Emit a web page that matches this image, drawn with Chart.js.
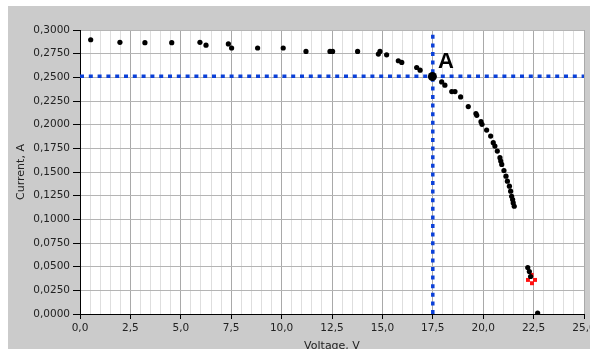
<!DOCTYPE html>
<html>
<head>
<meta charset="utf-8">
<script src="https://cdn.jsdelivr.net/npm/chart.js@4.4.0/dist/chart.umd.min.js"></script>
<style>
  html, body { margin: 0; padding: 0; background: #fff; }
  #wrap { width: 590px; height: 349px; position: relative; }
</style>
</head>
<body>
<div id="wrap"><canvas id="ivChart" width="590" height="349"></canvas></div>
<script>
// ------------------------------------------------------------
// Data (I-V curve of the panel)
// ------------------------------------------------------------
const voltage = [0.53, 1.98, 3.22, 4.55, 5.95, 6.25, 7.36, 7.52, 8.81, 10.08,
  11.21, 12.40, 12.53, 13.77, 14.80, 14.88, 15.21, 15.79, 15.96, 16.70,
  16.87, 17.94, 18.10, 18.44, 18.60, 18.88, 19.26, 19.64, 19.68, 19.89,
  19.94, 20.17, 20.37, 20.50, 20.58, 20.70, 20.83, 20.87, 20.92, 21.03,
  21.13, 21.20, 21.30, 21.36, 21.41, 21.46, 21.49, 21.54, 22.21, 22.29,
  22.35, 22.70];
const current = [0.2897, 0.2870, 0.2866, 0.2866, 0.2870, 0.2840, 0.2853, 0.2810, 0.2810, 0.2810,
  0.2774, 0.2774, 0.2774, 0.2774, 0.2746, 0.2774, 0.2738, 0.2675, 0.2658, 0.2604,
  0.2576, 0.2452, 0.2417, 0.2350, 0.2350, 0.2293, 0.2191, 0.2117, 0.2099, 0.2032,
  0.2004, 0.1943, 0.1880, 0.1810, 0.1774, 0.1721, 0.1651, 0.1615, 0.1580, 0.1516,
  0.1456, 0.1403, 0.1350, 0.1297, 0.1244, 0.1209, 0.1173, 0.1138, 0.0491, 0.0448,
  0.0396, 0.0010];

// operating point A
const pointAV = [17.48];
const pointAI = [0.2509];

// red marker near open circuit
const redV = [22.40, 22.22, 22.57, 22.42];
const redI = [0.0413, 0.0360, 0.0360, 0.0325];

// guide lines through A
const guideV = 17.5;
const guideI = 0.2512;

const xMin = 0, xMax = 25, xStep = 0.5, xLabelStep = 2.5;
const yMin = 0, yMax = 0.3, yStep = 0.025;

const toXY = (xs, ys) => xs.map((x, i) => ({ x: x, y: ys[i] }));
const isMajorX = (v) => Math.abs(v / xLabelStep - Math.round(v / xLabelStep)) < 1e-6;

// ------------------------------------------------------------
// Background panel + label "A"
// ------------------------------------------------------------
const panelPlugin = {
  id: "panel",
  beforeDraw(chart) {
    const c = chart.ctx;
    const a = chart.chartArea;
    c.save();
    c.fillStyle = "#ffffff";
    c.fillRect(0, 0, chart.width, chart.height);
    c.fillStyle = "#cbcbcb";
    c.fillRect(8, 6, chart.width - 8, chart.height - 6);
    c.fillStyle = "#ffffff";
    c.fillRect(a.left, a.top, a.right - a.left, a.bottom - a.top);
    c.restore();
  },
  afterDraw(chart) {
    const c = chart.ctx;
    const xs = chart.scales.x, ys = chart.scales.y;
    c.save();
    c.fillStyle = "#000";
    c.font = "bold 22px 'Liberation Sans', Arial, sans-serif";
    c.textBaseline = "alphabetic";
    c.fillText("A", xs.getPixelForValue(17.76), ys.getPixelForValue(0.2597));
    c.restore();
  },
};

Chart.defaults.font.family = "'DejaVu Sans', Tahoma, sans-serif";
Chart.defaults.font.size = 10.5;
Chart.defaults.color = "#222";

const ctx = document.getElementById("ivChart").getContext("2d");
new Chart(ctx, {
  type: "scatter",
  data: {
    datasets: [
      {
        label: "A",
        data: toXY(pointAV, pointAI),
        pointRadius: 4.5,
        pointBackgroundColor: "#000",
        pointBorderWidth: 0,
        order: 0,
      },
      {
        label: "I-V",
        data: toXY(voltage, current),
        pointRadius: 2.6,
        pointBackgroundColor: "#000",
        pointBorderWidth: 0,
        clip: 0,
        order: 1,
      },
      {
        label: "marker",
        data: toXY(redV, redI),
        pointStyle: "rect",
        pointRadius: 2.8,
        pointBackgroundColor: "#ff1010",
        pointBorderWidth: 0,
        order: 2,
      },
      {
        label: "Ua",
        data: [{ x: guideV, y: yMin }, { x: guideV, y: yMax - 0.005 }],
        showLine: true,
        borderColor: "#0b40d8",
        borderWidth: 3.5,
        borderDash: [4, 4.6],
        pointRadius: 0,
        order: 3,
      },
      {
        label: "Ia",
        data: [{ x: xMin, y: guideI }, { x: xMax, y: guideI }],
        showLine: true,
        borderColor: "#0b40d8",
        borderWidth: 3.5,
        borderDash: [4, 4.8],
        pointRadius: 0,
        order: 3,
      },
    ],
  },
  options: {
    responsive: false,
    animation: false,
    devicePixelRatio: 1,
    layout: { padding: { left: 0, top: 30, right: 6, bottom: 0 } },
    plugins: {
      legend: { display: false },
      tooltip: { enabled: false },
    },
    scales: {
      x: {
        type: "linear",
        min: xMin,
        max: xMax,
        border: { color: "#000", width: 1 },
        grid: {
          color: (c) => (isMajorX(c.tick.value) ? "#a9a9a9" : "#dedede"),
          tickColor: (c) => (isMajorX(c.tick.value) ? "#000" : "rgba(0,0,0,0)"),
          tickLength: 5,
        },
        ticks: {
          stepSize: xStep,
          autoSkip: false,
          maxRotation: 0,
          padding: 3,
          callback: (v) => (isMajorX(v) ? v.toFixed(1).replace(".", ",") : ""),
        },
        title: {
          display: true,
          text: "Voltage, V",
          font: { size: 11, lineHeight: 0.6 },
          padding: 0,
        },
        afterFit(scale) {
          scale.height = 35;
          scale.paddingLeft = 0;
          scale.paddingRight = 0;
        },
      },
      y: {
        type: "linear",
        min: yMin,
        max: yMax,
        border: { color: "#000", width: 1 },
        grid: {
          color: "#b4b4b4",
          tickColor: "#000",
          tickLength: 7,
        },
        ticks: {
          stepSize: yStep,
          padding: 3,
          callback: (v) => v.toFixed(4).replace(".", ","),
        },
        title: {
          display: true,
          text: "Current, A",
          font: { size: 11, lineHeight: 1.2 },
          padding: { top: 15, bottom: 0 },
        },
        afterFit(scale) {
          scale.width = 80;
        },
      },
    },
  },
  plugins: [panelPlugin],
});
</script>
</body>
</html>
